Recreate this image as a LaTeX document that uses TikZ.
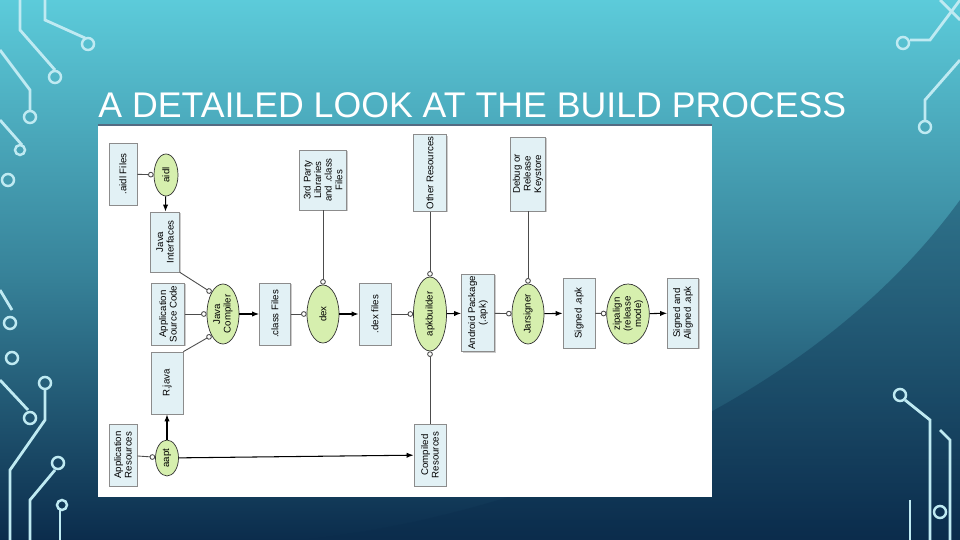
\documentclass[tikz,border=0pt]{standalone}
\usepackage{fontspec}
\setmainfont{Liberation Sans}
\usetikzlibrary{arrows.meta,shapes.geometric,shadows}
\definecolor{boxfill}{HTML}{E2F1F5}
\definecolor{ellfill}{HTML}{D6EFAE}
\definecolor{bgtop}{HTML}{5CCBDA}
\definecolor{bgbot}{HTML}{0B2C4C}
\definecolor{circ}{HTML}{BFEAF2}
\tikzset{
  px/.style={x=0.02cm,y=-0.02cm},
  filebox/.style={draw=black!45,fill=boxfill,rotate=90,inner sep=1pt,align=center,font=\fontsize{5.5}{6}\selectfont,drop shadow={shadow xshift=0.6pt,shadow yshift=-0.6pt,opacity=0.4}},
  tool/.style={ellipse,draw=black!80,fill=ellfill,rotate=90,inner sep=0pt,align=center,font=\fontsize{5.5}{6}\selectfont},
  feed/.style={draw=black!70,line width=0.5pt,-{Circle[open,length=3.2pt,fill=white]}},
  prod/.style={draw=black,line width=0.6pt,-{Latex[length=4pt,width=3pt]}},
  trace/.style={draw=circ,line width=1.6pt},
  pad/.style={draw=circ,line width=1.4pt,fill=none}
}
\begin{document}
\begin{tikzpicture}[px]
\useasboundingbox (0,0) rectangle (960,540);
\shade[top color=bgtop,bottom color=bgbot,middle color=bgtop!55!bgbot] (0,0) rectangle (960,540);
\fill[bgbot,opacity=0.35] (960,540) -- (960,200) .. controls (800,420) and (500,520) .. (300,540) -- cycle;
% circuit decorations
\draw[trace] (20,0) -- (20,30) -- (55,70);
\draw[pad] (55,77) circle (6);
\draw[trace] (45,0) -- (45,20) -- (85,38);
\draw[pad] (88,44) circle (6);
\draw[trace] (0,50) -- (30,90) -- (30,110);
\draw[pad] (30,117) circle (6);
\draw[trace] (0,120) -- (22,145);
\draw[pad] (20,150) circle (5);
\draw[pad] (8,180) circle (6);
\draw[trace] (0,290) -- (12,310);
\draw[pad] (10,323) circle (6);
\draw[trace] (0,380) -- (28,410);
\draw[pad] (12,358) circle (6);
\draw[pad] (30,418) circle (6);
\draw[trace] (10,540) -- (10,470) -- (45,420) -- (45,390);
\draw[pad] (45,383) circle (6);
\draw[trace] (30,540) -- (30,500) -- (55,470);
\draw[pad] (58,463) circle (6);
\draw[trace] (60,540) -- (60,510);
\draw[pad] (62,505) circle (5);
\draw[trace] (960,0) -- (930,40) -- (910,40);
\draw[pad] (903,43) circle (6);
\draw[trace] (960,60) -- (925,100) -- (925,120);
\draw[pad] (925,127) circle (6);
\draw[trace] (960,20) -- (940,0);
\draw[trace] (930,540) -- (930,420) -- (905,400);
\draw[pad] (900,395) circle (6);
\draw[trace] (950,540) -- (950,440) -- (940,430);
\draw[pad] (940,512) circle (6);
\draw[trace] (910,540) -- (910,500);
% title
\node[anchor=base west,text=white,font=\fontsize{20.3}{24}\selectfont,inner sep=0pt] (title) at (98,118) {A DETAILED LOOK AT THE BUILD PROCESS};
% panel
\fill[white] (98,125) rectangle (712,497);
\draw[bgbot!70,line width=0.6pt] (98,125) -- (712,125);
% nodes
\node[filebox,minimum width=0.02cm*62,minimum height=0.02cm*28] (aidlf) at (123,174) {.aidl Files};
\node[tool,minimum width=0.02cm*42,minimum height=0.02cm*24] (aidl) at (166,175) {aidl};
\node[filebox,minimum width=0.02cm*60,minimum height=0.02cm*29] (jint) at (165,242) {Java\\Interfaces};
\node[filebox,minimum width=0.02cm*62,minimum height=0.02cm*33] (src) at (168,314) {Application\\Source Code};
\node[filebox,minimum width=0.02cm*62,minimum height=0.02cm*32] (rjava) at (167,383) {R.java};
\node[filebox,minimum width=0.02cm*62,minimum height=0.02cm*28] (ares) at (123,455) {Application\\Resources};
\node[tool,minimum width=0.02cm*36,minimum height=0.02cm*23] (aapt) at (167,458) {aapt};
\node[tool,minimum width=0.02cm*60,minimum height=0.02cm*32] (javac) at (223,314) {Java\\Compiler};
\node[filebox,minimum width=0.02cm*62,minimum height=0.02cm*31] (cls) at (275,314) {.class Files};
\node[filebox,minimum width=0.02cm*60,minimum height=0.02cm*47] (third) at (323,180) {3rd Party\\Libraries\\and .class\\Files};
\node[tool,minimum width=0.02cm*58,minimum height=0.02cm*32] (dex) at (323,314) {dex};
\node[filebox,minimum width=0.02cm*62,minimum height=0.02cm*32] (dexf) at (375,314) {.dex files};
\node[filebox,minimum width=0.02cm*73,minimum height=0.02cm*33] (other) at (430,173) {Other Resources};
\node[tool,minimum width=0.02cm*74,minimum height=0.02cm*33] (apkb) at (430,314) {apkbuilder};
\node[filebox,minimum width=0.02cm*62,minimum height=0.02cm*32] (cres) at (430,455) {Compiled\\Resources};
\node[filebox,minimum width=0.02cm*70,minimum height=0.02cm*33] (pkg) at (478,313) {Android Package\\(.apk)};
\node[filebox,minimum width=0.02cm*74,minimum height=0.02cm*35] (keys) at (528,174) {Debug or\\Release\\Keystore};
\node[tool,minimum width=0.02cm*60,minimum height=0.02cm*32] (jars) at (528,314) {Jarsigner};
\node[filebox,minimum width=0.02cm*70,minimum height=0.02cm*32] (sapk) at (579,313) {Signed .apk};
\node[tool,minimum width=0.02cm*60,minimum height=0.02cm*30] (zip) at (628,314) {zipalign\\(release\\mode)};
\node[filebox,minimum width=0.02cm*70,minimum height=0.02cm*31] (aapk) at (683,313) {Signed and\\Aligned .apk};
% connectors
\draw[feed] (aidlf) -- (aidl);
\draw[prod] (aidl) -- (jint);
\draw[feed] (jint.south west) -- (javac.north east);
\draw[feed] (src) -- (javac);
\draw[feed] (rjava.south east) -- (javac.north west);
\draw[prod] (javac) -- (cls);
\draw[feed] (cls) -- (dex);
\draw[feed] (third) -- (dex);
\draw[prod] (dex) -- (dexf);
\draw[feed] (dexf) -- (apkb);
\draw[feed] (other) -- (apkb);
\draw[feed] (cres) -- (apkb);
\draw[prod] (apkb) -- (pkg);
\draw[feed] (pkg) -- (jars);
\draw[feed] (keys) -- (jars);
\draw[prod] (jars) -- (sapk);
\draw[feed] (sapk) -- (zip);
\draw[prod] (zip) -- (aapk);
\draw[feed] (ares) -- (aapt);
\draw[prod] (aapt) -- (rjava);
\draw[prod] (aapt) -- (cres);
\end{tikzpicture}
\end{document}
